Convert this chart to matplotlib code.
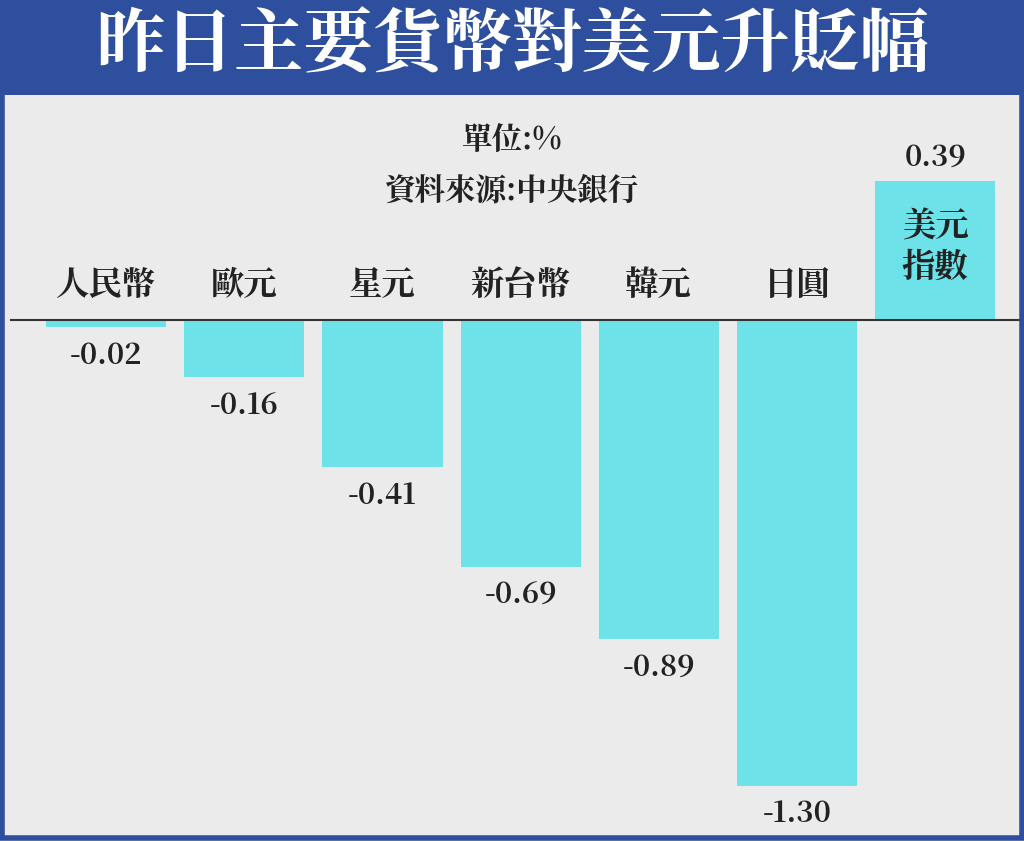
import matplotlib
matplotlib.use("Agg")
import matplotlib.pyplot as plt
from matplotlib import font_manager as fm
from matplotlib.patches import Rectangle

# pick whatever CJK family is registered
cjk = [f.name for f in fm.fontManager.ttflist if 'CJK' in f.name]
pref = [n for n in cjk if 'TC' in n] or cjk
plt.rcParams['font.family'] = (pref[:1] if pref else []) + ['DejaVu Sans']

categories = ['人民幣', '歐元', '星元', '新台幣', '韓元', '日圓', '美元\n指數']
values = [-0.02, -0.16, -0.41, -0.69, -0.89, -1.30, 0.39]
value_labels = ['-0.02', '-0.16', '-0.41', '-0.69', '-0.89', '-1.30', '0.39']

blue = '#2e4f9e'
bar_color = '#6de3e9'
bg = '#ebebeb'

fig = plt.figure(figsize=(10.24, 8.41), dpi=100)
fig.patch.set_facecolor(bg)

# title banner
fig.patches.append(Rectangle((0, 1 - 95/841), 1, 95/841, transform=fig.transFigure,
                             facecolor=blue, edgecolor='none', zorder=0))
fig.patches.append(Rectangle((0.002, 0.003), 0.996, 0.994, transform=fig.transFigure,
                             facecolor='none', edgecolor=blue, linewidth=4, zorder=5))
fig.text(0.5, 1 - 47/841, '昨日主要貨幣對美元升貶幅', ha='center', va='center',
         color='white', fontsize=50, fontweight='bold')

ax = fig.add_axes([0, 6/841, 1, 735/841])
ax.set_facecolor(bg)
ax.set_xlim(-0.767, 6.642)
ax.set_ylim(-1.438, 0.615)
ax.axis('off')

x = list(range(len(categories)))
ax.bar(x, values, width=0.87, color=bar_color, zorder=2)
ax.plot([-0.69, 6.62], [0, 0], color='#333333', linewidth=1.5, zorder=3)

for i, (c, v, lab) in enumerate(zip(categories, values, value_labels)):
    if v < 0:
        ax.text(i, 0.098, c, ha='center', va='center', fontsize=24, fontweight='bold', color='#222222')
        ax.text(i, v - 0.08, lab, ha='center', va='center', fontsize=21, fontweight='bold', color='#222222')
    else:
        ax.text(i, v / 2 + 0.01, c, ha='center', va='center', fontsize=24, fontweight='bold',
                color='#222222', linespacing=1.1)
        ax.text(i, v + 0.065, lab, ha='center', va='center', fontsize=21, fontweight='bold', color='#222222')

fig.text(0.5, 1 - 140/841, '單位:%', ha='center', va='center', fontsize=22, fontweight='bold', color='#222222')
fig.text(0.5, 1 - 191/841, '資料來源:中央銀行', ha='center', va='center', fontsize=22, fontweight='bold', color='#222222')

fig.savefig('out.png', dpi=100, facecolor=fig.get_facecolor())
